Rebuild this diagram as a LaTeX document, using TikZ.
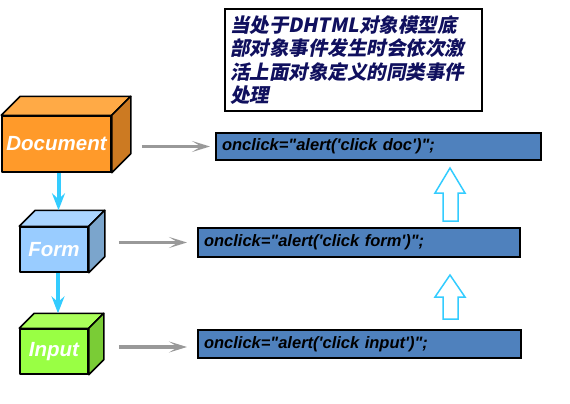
\documentclass[tikz,border=0pt]{standalone}
\usepackage{fontspec}
\setmainfont{Liberation Sans}[Ligatures=TeXOff]
\newfontfamily\cjk[FakeSlant=0.2]{Noto Sans CJK SC}
\usetikzlibrary{arrows.meta,calc}
\definecolor{docfront}{HTML}{FF9A2A}
\definecolor{doctop}{HTML}{FFAA46}
\definecolor{docside}{HTML}{CC7A22}
\definecolor{formfront}{HTML}{99CCFF}
\definecolor{formtop}{HTML}{AAD5FF}
\definecolor{formside}{HTML}{7BA5CC}
\definecolor{infront}{HTML}{99FF44}
\definecolor{intop}{HTML}{AAFF5A}
\definecolor{inside}{HTML}{7ACC36}
\definecolor{codeblue}{HTML}{4F81BD}
\definecolor{flowcyan}{HTML}{33CCFF}
\definecolor{navytext}{HTML}{10105E}
\newcommand\cubesides[4]{%
  \draw[cubeline, fill=#3] (#1.north west) -- ++(#2,-#2) -- ($(#1.north east)+(#2,-#2)$) -- (#1.north east) -- cycle;
  \draw[cubeline, fill=#4] (#1.north east) -- ++(#2,-#2) -- ($(#1.south east)+(#2,-#2)$) -- (#1.south east) -- cycle;}
\begin{document}
\begin{tikzpicture}[x=1pt,y=-1pt,
  cubeline/.style={draw=black, line width=1.5pt, line join=round},
  cubefront/.style={cubeline, inner sep=0pt, text=white,
    font=\fontsize{20.5}{24}\selectfont\bfseries\itshape},
  codebox/.style={draw=black, line width=2pt, fill=codeblue, anchor=north west,
    inner xsep=6pt, inner ysep=0pt, align=left,
    font=\fontsize{16.5}{20}\selectfont\bfseries\itshape},
  grayarrow/.style={draw=black!40, line width=3.5pt, -{Stealth[length=18pt,width=11pt,inset=9pt]}},
  flowarrow/.style={draw=flowcyan, line width=4pt, -{Stealth[length=17pt,width=13pt,inset=6pt]}},
  hollow/.style={draw=flowcyan, line width=1.5pt, fill=white, line join=miter}]
\useasboundingbox (0,0) rectangle (570,404);

% note box
\node[draw=black, line width=2pt, anchor=north west, minimum width=257, minimum height=102,
  text width=247, inner xsep=5pt, inner ysep=3pt, align=left, text=navytext,
  font=\fontsize{19.5}{23.5}\selectfont\cjk\bfseries] (note) at (224,8)
  {当处于DHTML对象模型底\\部对象事件发生时会依次激\\活上面对象定义的同类事件\\处理};

% cubes
\node[cubefront, fill=docfront, minimum width=109, minimum height=56] (doc) at (56.5,144) {Document};
\cubesides{doc}{19}{doctop}{docside}
\node[cubefront, fill=formfront, minimum width=68, minimum height=45] (form) at (54,249.5) {Form};
\cubesides{form}{16}{formtop}{formside}
\node[cubefront, fill=infront, minimum width=68, minimum height=45] (input) at (54,351.5) {Input};
\cubesides{input}{15}{intop}{inside}
\coordinate (formtopc) at ($(form.north)+(0,-16)$);
\coordinate (inputtopc) at ($(input.north)+(0,-15)$);

% code boxes
\node[codebox, minimum width=325, minimum height=27, text width=313] (dbox) at (215,132) {onclick="alert('click doc')";};
\node[codebox, minimum width=322, minimum height=29, text width=310] (fbox) at (197,227) {onclick="alert('click form')";};
\node[codebox, minimum width=323, minimum height=28, text width=311] (ibox) at (197,329) {onclick="alert('click input')";};

% flow arrows
\draw[flowarrow] ([xshift=2pt]doc.south) -- ([xshift=2pt]doc.south |- formtopc);
\draw[flowarrow] ([xshift=4pt]form.south) -- ([xshift=4pt]form.south |- inputtopc);

% gray arrows
\draw[grayarrow] ([xshift=30pt]doc.east |- dbox.west) -- ([xshift=-5pt]dbox.west);
\draw[grayarrow] ([xshift=30pt]form.east |- fbox.west) -- ([xshift=-10pt]fbox.west);
\draw[grayarrow] ([xshift=30pt]input.east |- 0,347) -- ([xshift=-10pt]ibox.west |- 0,347);

% hollow up arrows
\draw[hollow] (450,168) -- (465,193) -- (458,193) -- (458,221) -- (443,221) -- (443,193) -- (435,193) -- cycle;
\draw[hollow] (450,275) -- (465,297) -- (458,297) -- (458,319) -- (443,319) -- (443,297) -- (435,297) -- cycle;
\end{tikzpicture}
\end{document}
